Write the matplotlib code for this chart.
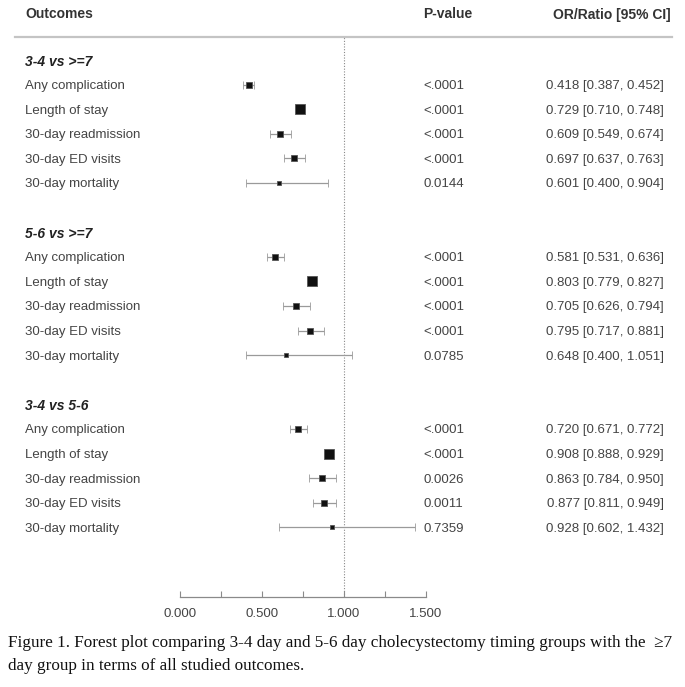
import matplotlib
matplotlib.use("Agg")
import matplotlib.pyplot as plt
from matplotlib.transforms import blended_transform_factory
from matplotlib.lines import Line2D
from matplotlib.ticker import FixedLocator

plt.rcParams['font.family'] = ['Liberation Sans', 'DejaVu Sans']

groups = ["3-4 vs >=7", "5-6 vs >=7", "3-4 vs 5-6"]
outcomes = ["Any complication", "Length of stay", "30-day readmission",
            "30-day ED visits", "30-day mortality"]

or_g1 = [0.418, 0.729, 0.609, 0.697, 0.601]
lo_g1 = [0.387, 0.710, 0.549, 0.637, 0.400]
hi_g1 = [0.452, 0.748, 0.674, 0.763, 0.904]
p_g1 = ["<.0001", "<.0001", "<.0001", "<.0001", "0.0144"]

or_g2 = [0.581, 0.803, 0.705, 0.795, 0.648]
lo_g2 = [0.531, 0.779, 0.626, 0.717, 0.400]
hi_g2 = [0.636, 0.827, 0.794, 0.881, 1.051]
p_g2 = ["<.0001", "<.0001", "<.0001", "<.0001", "0.0785"]

or_g3 = [0.720, 0.908, 0.863, 0.877, 0.928]
lo_g3 = [0.671, 0.888, 0.784, 0.811, 0.602]
hi_g3 = [0.772, 0.929, 0.950, 0.949, 1.432]
p_g3 = ["<.0001", "<.0001", "0.0026", "0.0011", "0.7359"]

# relative weight of each outcome (marker size)
marker_sizes = [4.4, 6.6, 3.8, 3.8, 2.4]

xticks_major = [0.0, 0.5, 1.0, 1.5]
xticks_minor = [0.25, 0.75, 1.25]

caption_1 = "Figure 1. Forest plot comparing 3-4 day and 5-6 day cholecystectomy timing groups with the  \u22657"
caption_2 = "day group in terms of all studied outcomes."

W, H = 685, 687
fig = plt.figure(figsize=(W / 100, H / 100), dpi=100)
ax = fig.add_axes([180 / W, 1 - 597 / H, 246 / W, (597 - 37) / H])

ax.set_xlim(0, 1.5)
ax.set_ylim(21.83, -0.935)

for s in ["left", "top", "right"]:
    ax.spines[s].set_visible(False)
ax.spines["bottom"].set_color("#8a8a8a")
ax.spines["bottom"].set_linewidth(0.9)
ax.set_yticks([])
ax.xaxis.set_major_locator(FixedLocator(xticks_major))
ax.xaxis.set_minor_locator(FixedLocator(xticks_minor))
ax.set_xticklabels([f"{v:.3f}" for v in xticks_major])
ax.tick_params(axis="x", which="both", direction="in", length=4.5, width=0.8,
               color="#8a8a8a", labelsize=9.5, labelcolor="#444444", pad=8)

ax.axvline(1.0, color="#888888", lw=0.8, ls=(0, (1, 1.5)), zorder=0)

trans = blended_transform_factory(fig.transFigure, ax.transData)
txt_col = "#444444"
fs = 9.5

all_or = [or_g1, or_g2, or_g3]
all_lo = [lo_g1, lo_g2, lo_g3]
all_hi = [hi_g1, hi_g2, hi_g3]
all_p = [p_g1, p_g2, p_g3]

for g, gname in enumerate(groups):
    base = g * 7
    fig.text(25 / W, base, gname, transform=trans, fontsize=10, fontweight="bold",
             fontstyle="italic", color="#222222", va="center_baseline", ha="left")
    for i, name in enumerate(outcomes):
        y = base + 1 + i
        est, lo, hi = all_or[g][i], all_lo[g][i], all_hi[g][i]
        ax.errorbar([est], [y], xerr=[[est - lo], [hi - est]], fmt="s",
                    ms=marker_sizes[i], mfc="#111111", mec="#555555", mew=0.6,
                    ecolor="#9a9a9a", elinewidth=0.9, capsize=3, capthick=0.9,
                    clip_on=False, zorder=3)
        fig.text(25 / W, y, name, transform=trans, fontsize=fs, color=txt_col,
                 va="center_baseline", ha="left")
        fig.text(423 / W, y, all_p[g][i], transform=trans, fontsize=fs, color=txt_col,
                 va="center_baseline", ha="left")
        fig.text(664 / W, y, f"{est:.3f} [{lo:.3f}, {hi:.3f}]", transform=trans,
                 fontsize=fs, color=txt_col, va="center_baseline", ha="right")

# header
hy = 1 - 13 / H
fig.text(25 / W, hy, "Outcomes", fontsize=10, fontweight="bold", color="#333333",
         va="center_baseline", ha="left")
fig.text(423 / W, hy, "P-value", fontsize=10, fontweight="bold", color="#333333",
         va="center_baseline", ha="left")
fig.text(671 / W, hy, "OR/Ratio [95% CI]", fontsize=10, fontweight="bold", color="#333333",
         va="center_baseline", ha="right")
fig.add_artist(Line2D([15 / W, 672 / W], [1 - 37 / H, 1 - 37 / H],
                      transform=fig.transFigure, color="#c4c4c4", lw=1.6))

# caption
cap_font = ["Liberation Serif", "DejaVu Serif"]
fig.text(8 / W, 1 - 643 / H, caption_1, family=cap_font, fontsize=12.3, color="#111111",
         va="center", ha="left")
fig.text(8 / W, 1 - 666 / H, caption_2, family=cap_font, fontsize=12.3, color="#111111",
         va="center", ha="left")

fig.savefig("out.png", dpi=100)
